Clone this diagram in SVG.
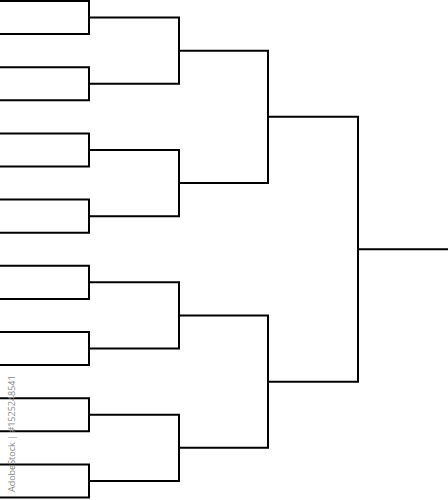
<svg xmlns="http://www.w3.org/2000/svg" width="448" height="500" viewBox="0 0 448 500">
<style>
.b{fill:none;stroke:#000;stroke-width:2;stroke-linecap:square;stroke-linejoin:miter}
.wm{font-family:"Open Sans","Liberation Sans",sans-serif;font-size:9px;fill:#8a8a8a}
</style>
<rect width="448" height="500" fill="#fff"/>
<g id="connectors">
<g id="r1">
<path class="b" d="M0 1H89V34.1H0"/>
<path class="b" d="M0 67.2H89V100.3H0"/>
<path class="b" d="M0 133.4H89V166.5H0"/>
<path class="b" d="M0 199.6H89V232.7H0"/>
<path class="b" d="M0 265.8H89V298.9H0"/>
<path class="b" d="M0 332H89V365.1H0"/>
<path class="b" d="M0 398.2H89V431.3H0"/>
<path class="b" d="M0 464.4H89V497.5H0"/>
</g>
<g id="r2">
<path class="b" d="M89 17.55H179V83.75H89"/>
<path class="b" d="M89 149.95H179V216.15H89"/>
<path class="b" d="M89 282.35H179V348.55H89"/>
<path class="b" d="M89 414.75H179V480.95H89"/>
</g>
<g id="r3">
<path class="b" d="M179 50.65H268V183.05H179"/>
<path class="b" d="M179 315.45H268V447.85H179"/>
</g>
<g id="r4">
<path class="b" d="M268 116.85H358V381.65H268"/>
</g>
<g id="final">
<path class="b" d="M358 249.25H448"/>
</g>
</g>
<text class="wm" transform="translate(15,492) rotate(-90)">AdobeStock | #1525248541</text>
</svg>
